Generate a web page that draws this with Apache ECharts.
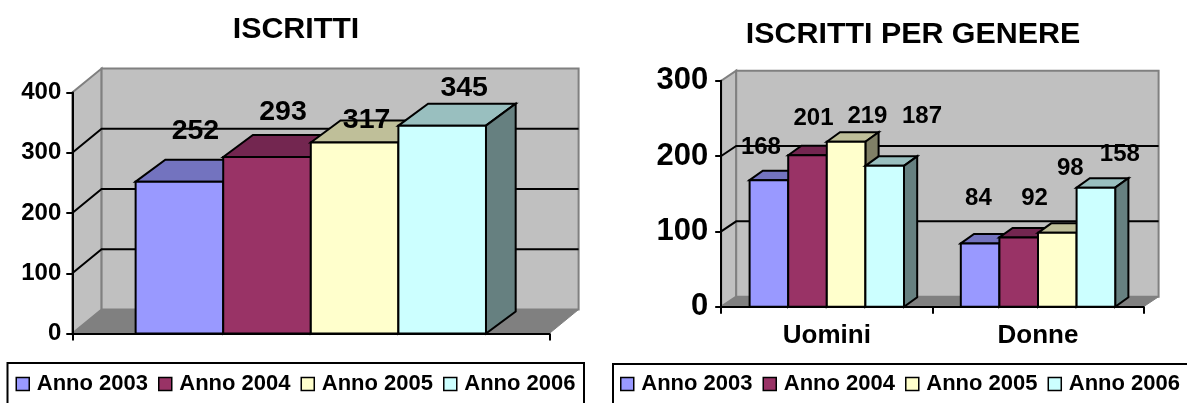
<!DOCTYPE html>
<html><head><meta charset="utf-8">
<style>html,body{margin:0;padding:0;background:#fff;overflow:hidden;width:1187px;height:403px}
#c{width:1187px;height:403px}</style>
<script src="https://cdn.jsdelivr.net/npm/echarts@6/dist/echarts.min.js"></script>
</head><body><div id="c"></div>
<script>
const yearNames = ['Anno 2003','Anno 2004','Anno 2005','Anno 2006'];
// ISCRITTI
const totalCategories = [''];
const total2003 = [252];
const total2004 = [293];
const total2005 = [317];
const total2006 = [345];
const totalTicks = [0,100,200,300,400];
// ISCRITTI PER GENERE
const genderCategories = ['Uomini','Donne'];
const gender2003 = [168,84];
const gender2004 = [201,92];
const gender2005 = [219,98];
const gender2006 = [187,158];
const genderTicks = [0,100,200,300];

const fills = ['#9999FF','#993366','#FFFFCC','#CCFFFF'];
const tops  = ['#7373BF','#732650','#BFBF99','#99BFBF'];
const sides = ['#4D4D80','#4D1A33','#808066','#668080'];
const FONT = '"Liberation Sans", Arial, sans-serif';

// label nudges relative to the bar's front-top centre (the source placed them by hand)
const totalNudge = [[[16,-51]],[[16,-45]],[[12,-22.5]],[[22,-37.5]]];
const genderNudge = [[[-8,-32.5],[-1.7,-45]],[[6,-37],[15.8,-39]],[[21.3,-25.7],[13,-64.5]],[[37.3,-49.5],[24,-33.5]]];

const series = [];
function addChart(g, cats, values, ticks, cfg){
  const n = cats.length;
  // walls and floor
  series.push({type:'custom',xAxisIndex:g,yAxisIndex:g,z:1,silent:true,
    data:[[0,ticks[0],ticks[ticks.length-1]]],encode:{x:0,y:1},
    renderItem(p,api){
      const b=api.size([1,0])[0];
      const p0=api.coord([0,api.value(1)]), p1=api.coord([n-1,api.value(1)]), pt=api.coord([0,api.value(2)]);
      const x0=p0[0]-b/2,x1=p1[0]+b/2,y0=p0[1],yt=pt[1],dx=cfg.wx,dy=cfg.wy;
      const st={stroke:'#808080',lineWidth:2,lineJoin:'miter'};
      return {type:'group',children:[
        {type:'polygon',shape:{points:[[x0,y0],[x0+dx,y0-dy],[x1+dx,y0-dy],[x1,y0]]},style:{fill:'#808080',stroke:'#808080',lineWidth:1}},
        {type:'polygon',shape:{points:[[x0,y0],[x0,yt],[x0+dx,yt-dy],[x0+dx,y0-dy]]},style:{fill:'#C0C0C0',...st}},
        {type:'rect',shape:{x:x0+dx,y:yt-dy,width:x1-x0,height:y0-yt},style:{fill:'#C0C0C0',...st}}
      ]};
    }});
  // grid lines on the walls
  series.push({type:'custom',xAxisIndex:g,yAxisIndex:g,z:1,silent:true,
    data:ticks.slice(1,-1).map(t=>[0,t]),encode:{x:0,y:1},
    renderItem(p,api){
      const b=api.size([1,0])[0];
      const c=api.coord([0,api.value(1)]), c1=api.coord([n-1,api.value(1)]);
      const x0=c[0]-b/2,x1=c1[0]+b/2,y=c[1],dx=cfg.wx;
      return {type:'polyline',shape:{points:[[x0,y],[x0+dx,y-cfg.wy],[x1+dx,y-cfg.wy]]},style:{fill:null,stroke:'#000',lineWidth:2}};
    }});
  // bars
  values.forEach((vals,s)=>{
    series.push({type:'custom',name:yearNames[s],xAxisIndex:g,yAxisIndex:g,z:2,
      itemStyle:{color:fills[s]},
      data:vals.map((v,i)=>[i,v]),encode:{x:0,y:1},
      renderItem(p,api){
        const b=api.size([1,0])[0],w=b*cfg.ratio/4;
        const c=api.coord([api.value(0),api.value(1)]), z=api.coord([api.value(0),0]);
        const x=c[0]-w*2+w*s,t=c[1],bo=z[1],dx=cfg.bx,dy=cfg.by;
        const st={stroke:'#000',lineWidth:2,lineJoin:'miter'};
        return {type:'group',children:[
          {type:'polygon',shape:{points:[[x,t],[x+dx,t-dy],[x+w+dx,t-dy],[x+w,t]]},style:{fill:tops[s],...st}},
          {type:'polygon',shape:{points:[[x+w,t],[x+w+dx,t-dy],[x+w+dx,bo-dy],[x+w,bo]]},style:{fill:sides[s],...st}},
          {type:'rect',shape:{x:x,y:t,width:w,height:bo-t},style:{fill:fills[s],...st}}
        ]};
      }});
  });
  // value labels, above every bar
  values.forEach((vals,s)=>{
    series.push({type:'custom',xAxisIndex:g,yAxisIndex:g,z:6,silent:true,
      data:vals.map((v,i)=>[i,v]),encode:{x:0,y:1},
      renderItem(p,api){
        const b=api.size([1,0])[0],w=b*cfg.ratio/4,i=api.value(0),v=api.value(1);
        const c=api.coord([i,v]),nd=cfg.nudge[s][i];
        return {type:'text',style:{text:String(v),x:c[0]-w*1.5+w*s+nd[0],y:c[1]+nd[1],
          align:'center',verticalAlign:'middle',font:'bold '+cfg.labelSize+'px '+FONT,fill:'#000'}};
      }});
  });
}
addChart(0,totalCategories,[total2003,total2004,total2005,total2006],totalTicks,
  {wx:29.3,wy:24,bx:29.7,by:22,ratio:0.7345,labelSize:28.5,nudge:totalNudge});
addChart(1,genderCategories,[gender2003,gender2004,gender2005,gender2006],genderTicks,
  {wx:15,wy:10,bx:13.2,by:9.5,ratio:0.731,labelSize:24,nudge:genderNudge});

function xAxis(g,cats,size,margin){return {gridIndex:g,type:'category',data:cats,z:5,
  axisLine:{show:true,lineStyle:{color:'#000',width:2}},
  axisTick:{show:true,length:7,lineStyle:{color:'#000',width:2}},
  splitLine:{show:false},
  axisLabel:{show:true,color:'#000',fontFamily:FONT,fontWeight:'bold',fontSize:size,margin:margin}};}
function yAxis(g,ticks,size,margin,len){return {gridIndex:g,type:'value',min:ticks[0],max:ticks[ticks.length-1],
  interval:ticks[1]-ticks[0],z:5,
  axisLine:{show:true,lineStyle:{color:'#000',width:2}},
  axisTick:{show:true,length:len,lineStyle:{color:'#000',width:2}},
  splitLine:{show:false},
  axisLabel:{color:'#000',fontFamily:FONT,fontWeight:'bold',fontSize:size,margin:margin}};}
function legend(left){return {left:left,top:373,orient:'horizontal',padding:0,icon:'rect',
  data:yearNames,itemWidth:13,itemHeight:13,itemGap:10,selectedMode:false,
  itemStyle:{borderColor:'#000',borderWidth:1.5},
  textStyle:{color:'#000',fontFamily:FONT,fontWeight:'bold',fontSize:22,padding:[0,0,0,2.5]}};}

const chart = echarts.init(document.getElementById('c'),null,{renderer:'canvas'});
chart.setOption({
  animation:false,backgroundColor:'#fff',
  title:[
    {text:'ISCRITTI',left:296,top:15,textAlign:'center',padding:0,textStyle:{color:'#000',fontFamily:FONT,fontWeight:'bold',fontSize:30.4}},
    {text:'ISCRITTI PER GENERE',left:913,top:19.5,textAlign:'center',padding:0,textStyle:{color:'#000',fontFamily:FONT,fontWeight:'bold',fontSize:30.4}}
  ],
  grid:[
    {left:72.3,top:92.5,width:477,height:241},
    {left:721.2,top:80.7,width:422.4,height:226}
  ],
  xAxis:[xAxis(0,totalCategories,12,8),xAxis(1,genderCategories,26,16.5)],
  yAxis:[yAxis(0,totalTicks,24,11,6),yAxis(1,genderTicks,31,13,6)],
  legend:[legend(15.5),legend(620)],
  graphic:[
    {type:'rect',shape:{x:7.5,y:363,width:576.5,height:60},style:{fill:'#fff',stroke:'#000',lineWidth:2},z:-1},
    {type:'rect',shape:{x:613,y:364,width:640,height:60},style:{fill:'#fff',stroke:'#000',lineWidth:2},z:-1}
  ],
  series:series
});
</script></body></html>
